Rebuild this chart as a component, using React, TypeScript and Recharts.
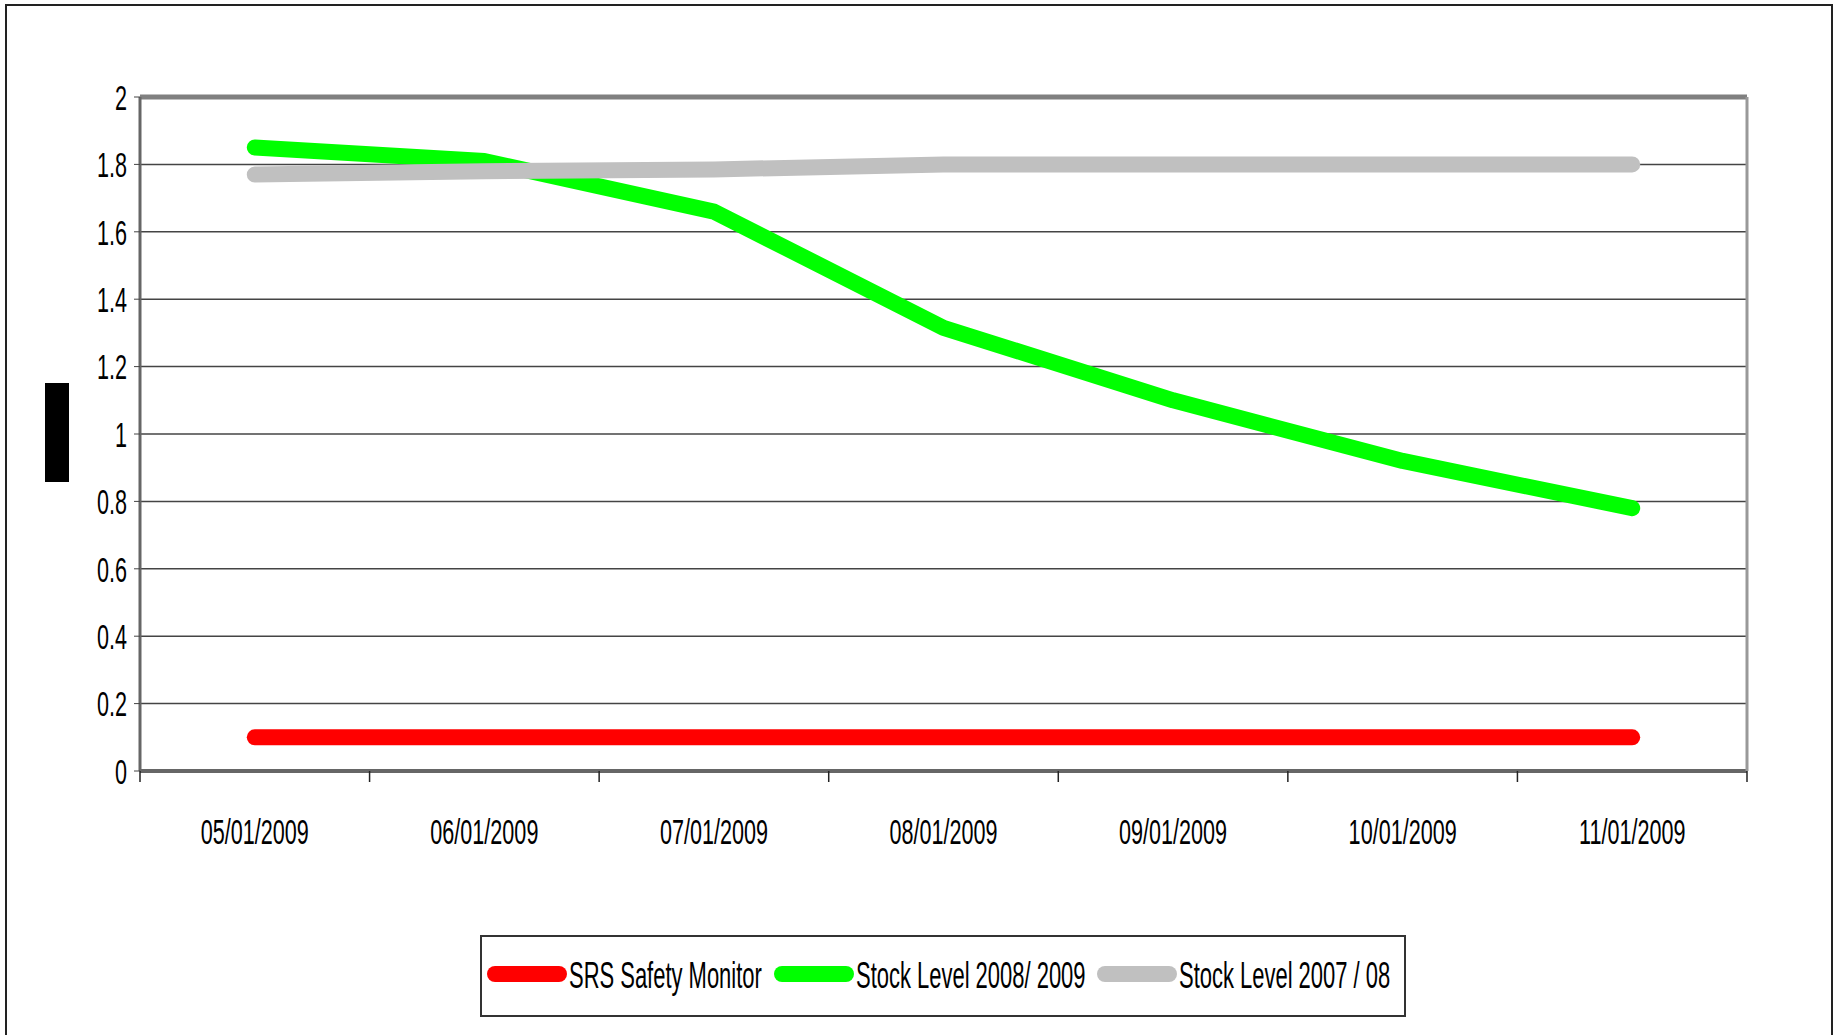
import React from "react";
import {
  LineChart,
  Line,
  XAxis,
  YAxis,
  CartesianGrid,
  Legend,
} from "recharts";

const dates = [
  "05/01/2009",
  "06/01/2009",
  "07/01/2009",
  "08/01/2009",
  "09/01/2009",
  "10/01/2009",
  "11/01/2009",
];
const srsSafetyMonitor = [0.1, 0.1, 0.1, 0.1, 0.1, 0.1, 0.1];
const stockLevel0809 = [1.85, 1.81, 1.66, 1.315, 1.1, 0.92, 0.78];
const stockLevel0708 = [1.77, 1.78, 1.785, 1.8, 1.8, 1.8, 1.8];
const yTicks = [0, 0.2, 0.4, 0.6, 0.8, 1, 1.2, 1.4, 1.6, 1.8, 2];

const series = [
  { key: "srs", name: "SRS Safety Monitor", color: "#ff0000" },
  { key: "s0809", name: "Stock Level 2008/ 2009", color: "#00ff00" },
  { key: "s0708", name: "Stock Level 2007 / 08", color: "#c0c0c0" },
];

const data = dates.map((date, i) => ({
  date,
  srs: srsSafetyMonitor[i],
  s0809: stockLevel0809[i],
  s0708: stockLevel0708[i],
}));

const W = 1837;
const H = 1035;
const FONT = '"Liberation Sans", Arial, sans-serif';
const FONT_SIZE = 36;
const SQUEEZE = 0.6;
const LEGEND_SQUEEZE = 0.61;
const margin = { top: 96, right: 89, bottom: 184, left: 80 };
const plotWidth = W - margin.left - 60 - margin.right - 1;
const halfBand = plotWidth / dates.length / 2;

function textWidth(t: string) {
  const ctx = document.createElement("canvas").getContext("2d");
  if (!ctx) return t.length * 18;
  ctx.font = `${FONT_SIZE}px ${FONT}`;
  return ctx.measureText(t).width;
}

function XTick(props: any) {
  const { x, y, payload, index } = props;
  return (
    <g>
      <line x1={x - halfBand} x2={x - halfBand} y1={y} y2={y + 11} stroke="#222" strokeWidth={1.5} />
      {index === dates.length - 1 && (
        <line x1={x + halfBand} x2={x + halfBand} y1={y} y2={y + 11} stroke="#222" strokeWidth={1.5} />
      )}
      <g transform={`translate(${x},${y + 60})`}>
        <text
          transform={`scale(${SQUEEZE},1)`}
          textAnchor="middle"
          dominantBaseline="central"
          fontSize={FONT_SIZE}
          fontFamily={FONT}
          fill="#000"
        >
          {payload.value}
        </text>
      </g>
    </g>
  );
}

function YTick(props: any) {
  const { x, y, payload } = props;
  return (
    <g transform={`translate(${x - 5},${y})`}>
      <text
        transform={`scale(${SQUEEZE},1)`}
        textAnchor="end"
        dominantBaseline="central"
        fontSize={FONT_SIZE}
        fontFamily={FONT}
        fill="#000"
      >
        {payload.value}
      </text>
    </g>
  );
}

function LegendBox() {
  return (
    <div
      style={{
        boxSizing: "border-box",
        width: 926,
        height: 82,
        border: "2px solid #333",
        background: "#fff",
        display: "flex",
        alignItems: "center",
        paddingLeft: 5,
        paddingBottom: 4,
        fontFamily: FONT,
        fontSize: FONT_SIZE,
        color: "#000",
      }}
    >
      {series.map((s) => {
        const w = textWidth(s.name) * LEGEND_SQUEEZE;
        return (
          <div key={s.key} style={{ display: "flex", alignItems: "center", marginRight: 12 }}>
            <svg width={80} height={16} style={{ display: "block" }}>
              <line x1={8} x2={72} y1={8} y2={8} stroke={s.color} strokeWidth={16} strokeLinecap="round" />
            </svg>
            <span
              style={{
                display: "inline-block",
                width: w,
                marginLeft: 2,
                whiteSpace: "nowrap",
                transform: `scaleX(${LEGEND_SQUEEZE})`,
                transformOrigin: "left center",
                lineHeight: "36px",
                marginTop: 4,
              }}
            >
              {s.name}
            </span>
          </div>
        );
      })}
    </div>
  );
}

export default function App() {
  return (
    <div style={{ position: "absolute", left: 0, top: 0, width: W, height: H, background: "#fff", overflow: "hidden" }}>
      <div
        style={{
          position: "absolute",
          left: 5,
          top: 4,
          width: 1828,
          height: 1100,
          border: "2px solid #222",
          boxSizing: "border-box",
        }}
      />
      <div style={{ position: "absolute", left: 45, top: 383, width: 24, height: 99, background: "#000" }} />
      <div style={{ position: "absolute", left: 0, top: 0 }}>
        <LineChart width={W} height={H} data={data} margin={margin}>
          <CartesianGrid vertical={false} stroke="#444" strokeWidth={1.5} />
          <XAxis
            dataKey="date"
            height={80}
            padding={{ left: halfBand, right: halfBand }}
            tickSize={0}
            tickMargin={0}
            interval={0}
            tick={<XTick />}
            axisLine={{ stroke: "#666", strokeWidth: 4 }}
          />
          <XAxis
            xAxisId="top"
            dataKey="date"
            orientation="top"
            height={1}
            tick={false}
            tickLine={false}
            axisLine={{ stroke: "#808080", strokeWidth: 5 }}
          />
          <YAxis
            width={60}
            domain={[0, 2]}
            ticks={yTicks}
            interval={0}
            tickSize={6}
            tickMargin={2}
            tick={<YTick />}
            tickLine={{ stroke: "#444" }}
            axisLine={{ stroke: "#666", strokeWidth: 3 }}
          />
          <YAxis
            yAxisId="right"
            orientation="right"
            width={1}
            domain={[0, 2]}
            tick={false}
            tickLine={false}
            axisLine={{ stroke: "#999", strokeWidth: 3 }}
          />
          <Legend
            layout="horizontal"
            verticalAlign="middle"
            align="center"
            wrapperStyle={{ position: "absolute", left: 480, top: 935, width: 926, height: 82 }}
            content={() => <LegendBox />}
          />
          {series.map((s) => (
            <Line
              key={s.key}
              type="linear"
              dataKey={s.key}
              name={s.name}
              stroke={s.color}
              strokeWidth={16}
              strokeLinecap="round"
              strokeLinejoin="round"
              dot={false}
              activeDot={false}
              isAnimationActive={false}
            />
          ))}
        </LineChart>
      </div>
    </div>
  );
}
